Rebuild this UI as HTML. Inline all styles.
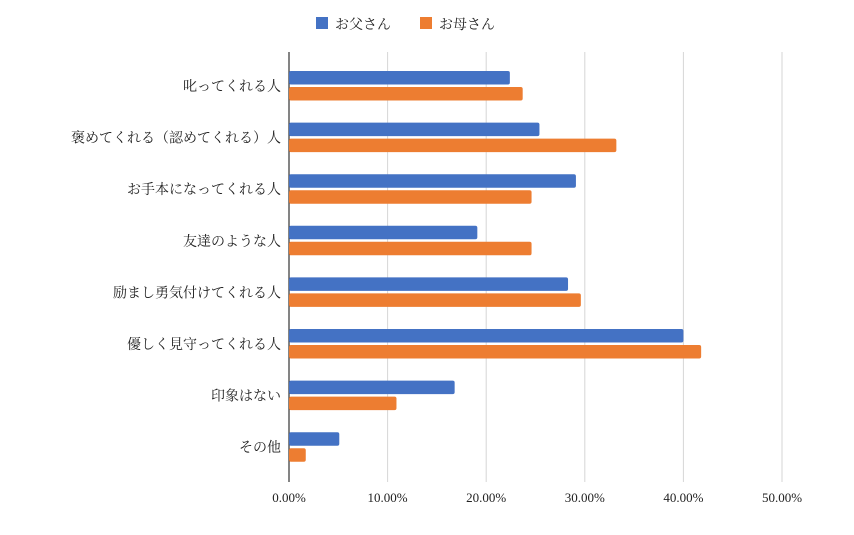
<!DOCTYPE html>
<html><head><meta charset="utf-8"><style>
body{margin:0;background:#fff;width:854px;height:530px;overflow:hidden;font-family:"Liberation Serif","Noto Serif CJK SC","Noto Sans CJK JP",serif;}
svg text{font-family:"Liberation Serif","Noto Serif CJK SC","Noto Sans CJK JP",serif;fill:#222;}
</style></head><body>
<svg id="chart" width="854" height="530"></svg>
<script>
const categories=["叱ってくれる人","褒めてくれる（認めてくれる）人","お手本になってくれる人","友達のような人","励まし勇気付けてくれる人","優しく見守ってくれる人","印象はない","その他"];
const fatherValues=[22.4,25.4,29.1,19.1,28.3,40.0,16.8,5.1];
const motherValues=[23.7,33.2,24.6,24.6,29.6,41.8,10.9,1.7];
const tickValues=[0,10,20,30,40,50];
const tickLabels=["0.00%","10.00%","20.00%","30.00%","40.00%","50.00%"];
const NS="http://www.w3.org/2000/svg";
const svg=document.getElementById('chart');
const x0=289,pxPer=9.86,top0=71,step=51.6,barH=13.5;
const xs=v=>x0+v*pxPer;
function mk(t,a){const e=document.createElementNS(NS,t);for(const k in a)e.setAttribute(k,a[k]);svg.appendChild(e);return e;}
tickValues.forEach((v,i)=>{
  if(v>0){const g=mk('line',{x1:xs(v),x2:xs(v),y1:52,y2:482,stroke:'#d6d6d6','stroke-width':1});
  
  }
  const t=mk('text',{x:xs(v),y:502,'text-anchor':'middle','font-size':13});
  t.textContent=tickLabels[i];
  
  
});
const ax=mk('line',{x1:x0,x2:x0,y1:52,y2:482,stroke:'#333','stroke-width':1.2});


categories.forEach((c,i)=>{
  const y=top0+i*step;
  const b=mk('rect',{x:x0,y:y,width:xs(fatherValues[i])-x0,height:barH,rx:2,fill:'#4472C4'});
  
  
  const o=mk('rect',{x:x0,y:y+16,width:xs(motherValues[i])-x0,height:barH,rx:2,fill:'#ED7D31'});
  
  
  const t=mk('text',{x:281,y:y+20,'text-anchor':'end','font-size':14});
  t.textContent=c;
  
  
});
const legend=[["お父さん","#4472C4",316],["お母さん","#ED7D31",420]];
legend.forEach(l=>{
  const r=mk('rect',{x:l[2],y:17,width:12,height:12,fill:l[1]});
  
  
  const t=mk('text',{x:l[2]+19,y:29,'font-size':14});
  t.textContent=l[0];
  
  
});
</script>
</body></html>
